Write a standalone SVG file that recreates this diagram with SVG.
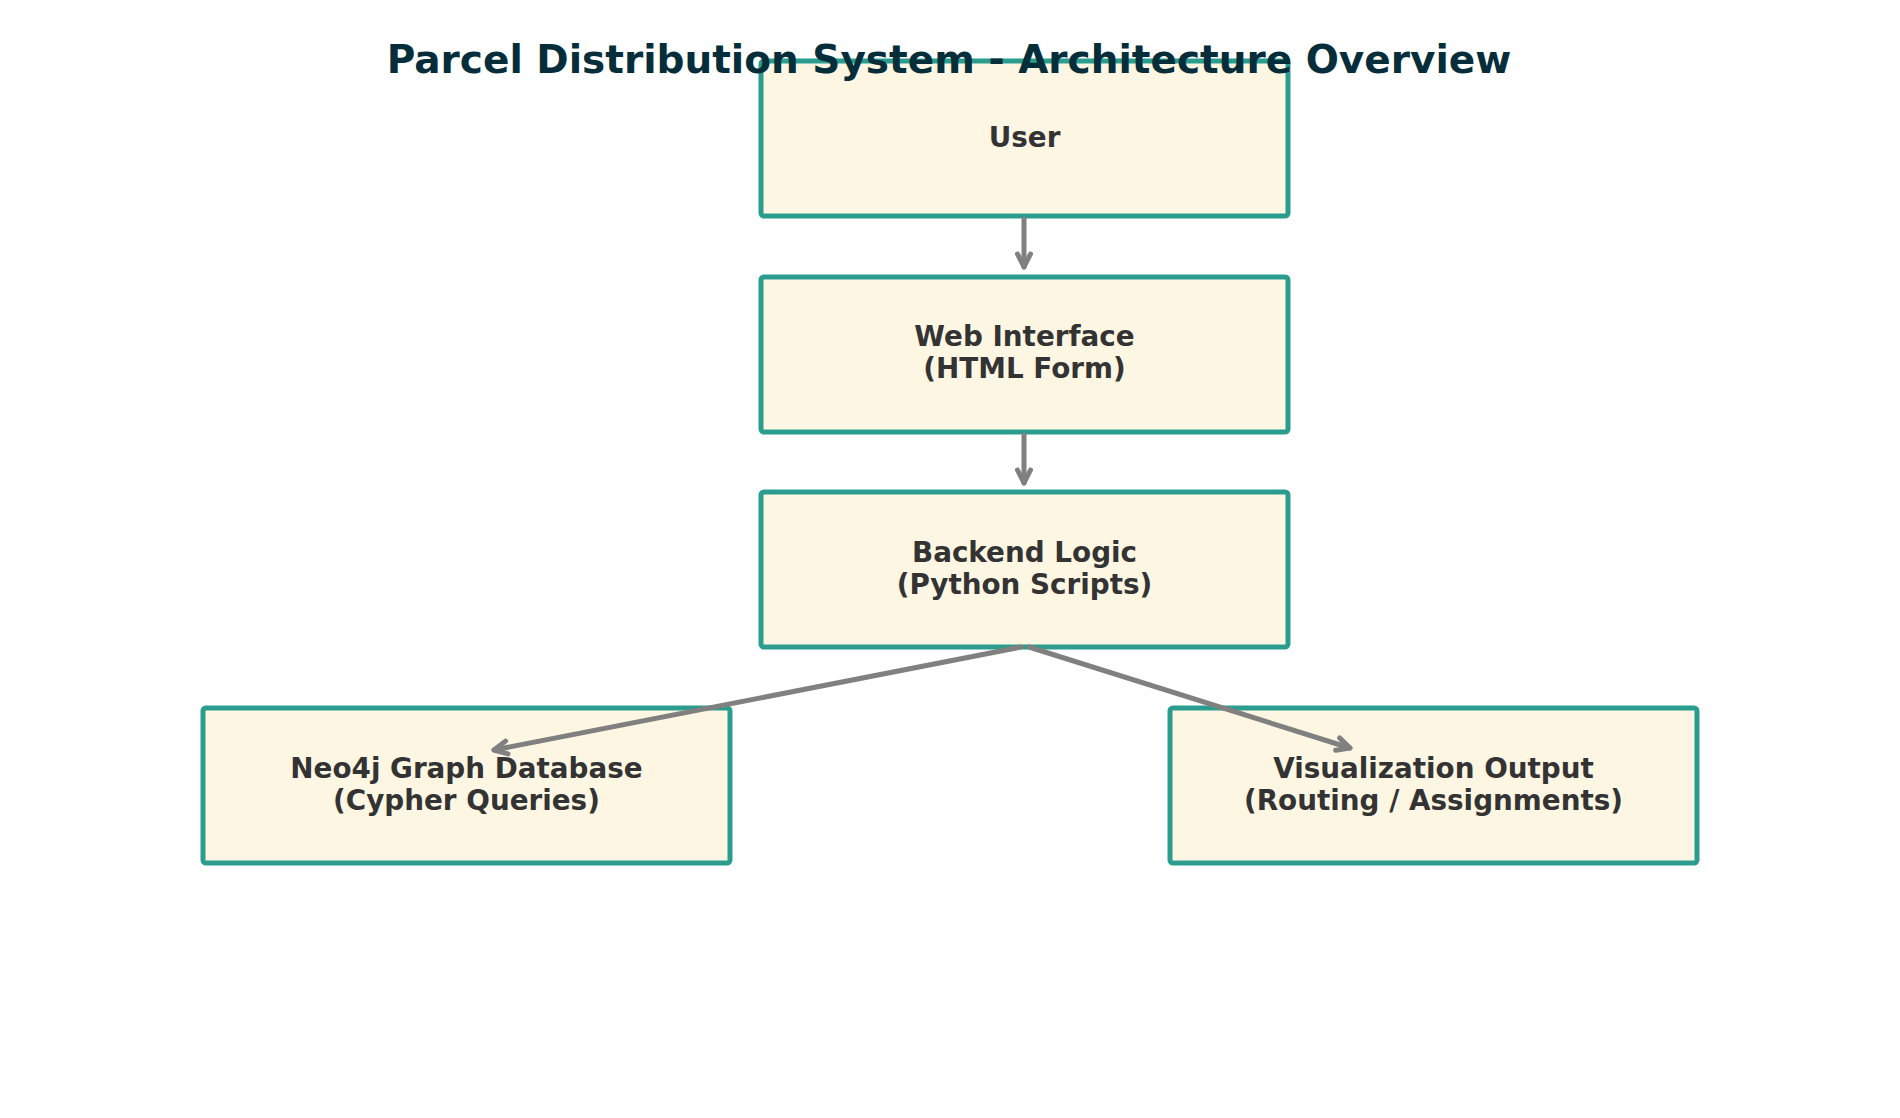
<svg xmlns="http://www.w3.org/2000/svg" width="1900" height="1118" viewBox="0 0 1900 1118">
<style>
.box{fill:#fdf6e3;stroke:#2a9d8f;stroke-width:5}
.lbl{font-family:"DejaVu Sans",sans-serif;font-weight:bold;font-size:27.8px;fill:#333333;text-anchor:middle}
.title{font-family:"DejaVu Sans",sans-serif;font-weight:bold;font-size:39px;fill:#062d3a;text-anchor:middle}
.edge{stroke:#808080;stroke-width:5;fill:none;stroke-linecap:round}
</style>
<defs>
<marker id="ah" markerUnits="userSpaceOnUse" markerWidth="30" markerHeight="30" refX="0" refY="0" viewBox="-20 -15 30 30" orient="auto" overflow="visible">
<path d="M -13 -6.5 L 0 0 L -13 6.5" fill="none" stroke="#808080" stroke-width="5" stroke-linecap="round" stroke-linejoin="round"/>
</marker>
</defs>
<rect width="1900" height="1118" fill="#ffffff"/>
<g id="user">
<rect class="box" x="761" y="61" width="527" height="155" rx="3"/>
<text class="lbl" x="1024.5" y="147">User</text>
</g>
<g id="web">
<rect class="box" x="761" y="277" width="527" height="155" rx="3"/>
<text class="lbl" x="1024.5" y="346">Web Interface</text>
<text class="lbl" x="1024.5" y="378">(HTML Form)</text>
</g>
<g id="backend">
<rect class="box" x="761" y="492" width="527" height="155" rx="3"/>
<text class="lbl" x="1024.5" y="562">Backend Logic</text>
<text class="lbl" x="1024.5" y="594">(Python Scripts)</text>
</g>
<g id="neo4j">
<rect class="box" x="203" y="708" width="527" height="155" rx="3"/>
<text class="lbl" x="466.5" y="778">Neo4j Graph Database</text>
<text class="lbl" x="466.5" y="810">(Cypher Queries)</text>
</g>
<g id="visualization">
<rect class="box" x="1170" y="708" width="527" height="155" rx="3"/>
<text class="lbl" x="1433.5" y="778">Visualization Output</text>
<text class="lbl" x="1433.5" y="810">(Routing / Assignments)</text>
</g>
<g id="connectors">
<path class="edge" d="M 1024 219 L 1024 267" marker-end="url(#ah)"/>
<path class="edge" d="M 1024 435 L 1024 483" marker-end="url(#ah)"/>
<path class="edge" d="M 1021 647 L 494 750" marker-end="url(#ah)"/>
<path class="edge" d="M 1029 647 L 1350 748" marker-end="url(#ah)"/>
</g>
<text class="title" x="949" y="73">Parcel Distribution System - Architecture Overview</text>
</svg>
